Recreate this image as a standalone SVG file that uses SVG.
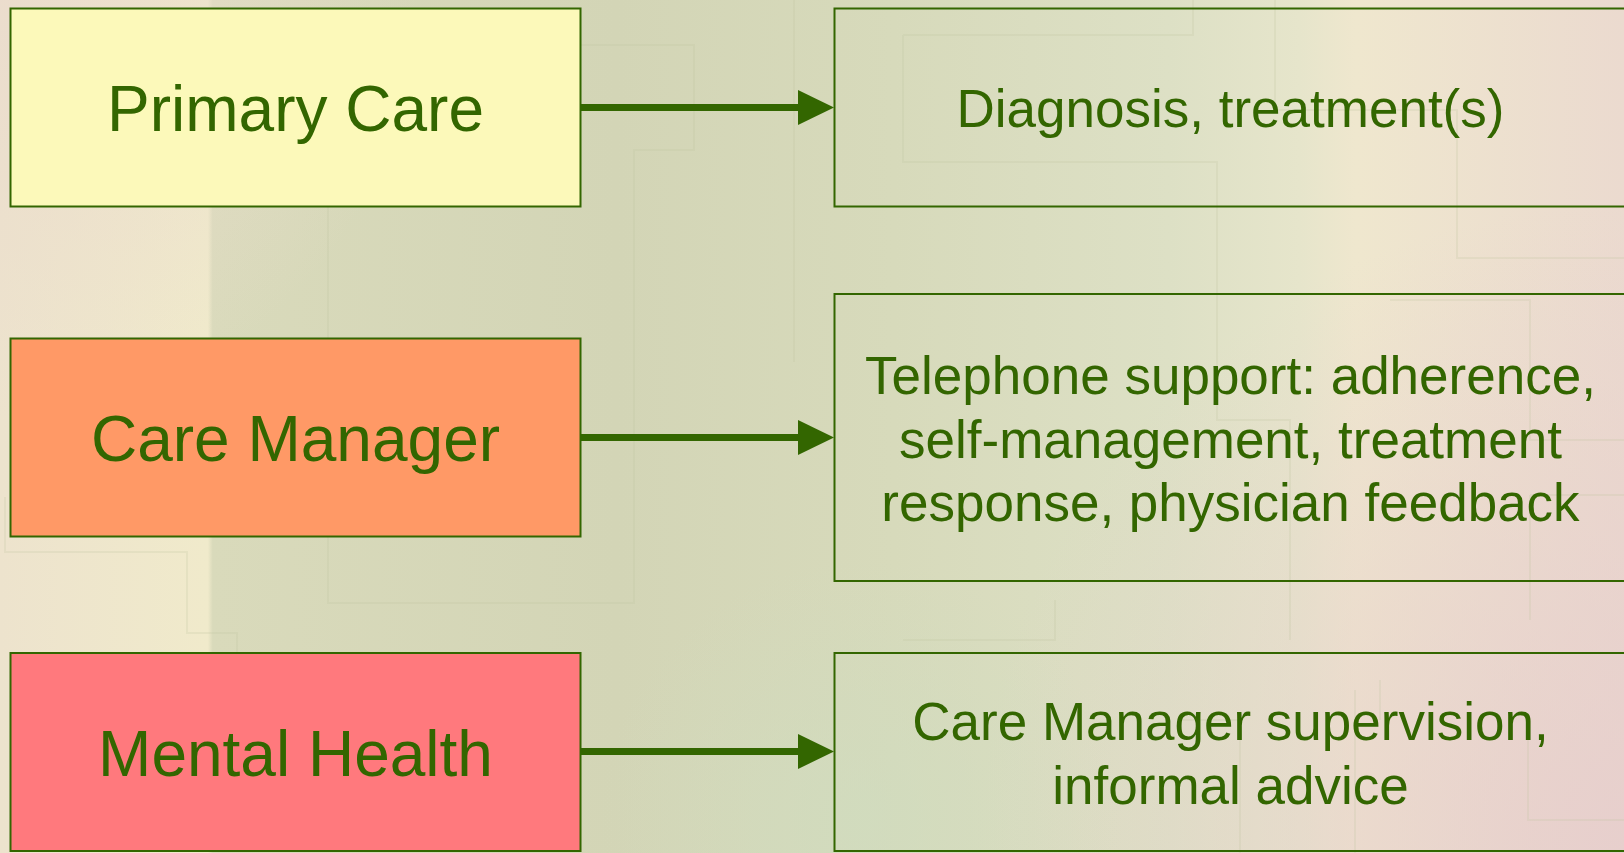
<svg xmlns="http://www.w3.org/2000/svg" width="1624" height="853" viewBox="0 0 1624 853">
  <defs>
    <linearGradient id="bgH" x1="0" y1="0" x2="1624" y2="0" gradientUnits="userSpaceOnUse">
      <stop offset="0" stop-color="#EDE3CD"/>
      <stop offset="0.128" stop-color="#F0EACB"/>
      <stop offset="0.131" stop-color="#D9DABB"/>
      <stop offset="0.38" stop-color="#D3D5B6"/>
      <stop offset="0.55" stop-color="#D7DABB"/>
      <stop offset="0.72" stop-color="#DDE0C5"/>
      <stop offset="0.8" stop-color="#E6E5CB"/>
      <stop offset="0.835" stop-color="#EFE7CE"/>
      <stop offset="1" stop-color="#EBDACF"/>
    </linearGradient>
    <radialGradient id="bgBR" cx="1624" cy="853" r="650" gradientUnits="userSpaceOnUse">
      <stop offset="0" stop-color="#E6CCCC" stop-opacity="0.8"/>
      <stop offset="1" stop-color="#E6CCCC" stop-opacity="0"/>
    </radialGradient>
    <radialGradient id="bgTL" cx="0" cy="0" r="420" gradientUnits="userSpaceOnUse">
      <stop offset="0" stop-color="#EBDCCD" stop-opacity="0.9"/>
      <stop offset="1" stop-color="#EBDCCD" stop-opacity="0"/>
    </radialGradient>
    <radialGradient id="bgBL" cx="860" cy="820" r="260" gradientUnits="userSpaceOnUse">
      <stop offset="0" stop-color="#CFDCBF" stop-opacity="0.7"/>
      <stop offset="1" stop-color="#CFDCBF" stop-opacity="0"/>
    </radialGradient>
    <marker id="arrow" markerUnits="userSpaceOnUse" markerWidth="36" markerHeight="36" refX="0" refY="17.5" orient="auto" viewBox="0 0 36 36">
      <path d="M0,0 L36,17.5 L0,35 Z" fill="#336600"/>
    </marker>
    <style>
      .left { stroke: #336600; stroke-width: 2; }
      .right { fill: none; stroke: #336600; stroke-width: 2; }
      .lbl { font-family: "Liberation Sans", Arial, sans-serif; fill: #336600; text-anchor: middle; }
      .big { font-size: 64px; }
      .small { font-size: 53px; }
      .conn { stroke: #336600; stroke-width: 7; fill: none; }
      .faint { fill: none; stroke: #BFC2A0; stroke-opacity: 0.22; stroke-width: 2; }
    </style>
  </defs>

  <!-- background -->
  <rect x="0" y="0" width="1624" height="853" fill="url(#bgH)"/>
  <rect x="0" y="0" width="1624" height="853" fill="url(#bgTL)"/>
  <rect x="0" y="0" width="1624" height="853" fill="url(#bgBR)"/>
  <rect x="0" y="0" width="1624" height="853" fill="url(#bgBL)"/>
  <g id="background-lines">
    <path class="faint" d="M580,45 H694 V150 H634 V603 H328 V200"/>
    <path class="faint" d="M794,0 V362"/>
    <path class="faint" d="M5,497 V552 H187 V633 H237 V660"/>
    <path class="faint" d="M903,35 H1193 V0 M903,35 V162 H1217 V420 H1290 V640"/>
    <path class="faint" d="M1275,0 V110 H1457 V258 H1624"/>
    <path class="faint" d="M1390,300 H1530 V440 H1624"/>
    <path class="faint" d="M1530,495 H1624 M1530,495 V620"/>
    <path class="faint" d="M903,640 H1055 V600"/>
    <path class="faint" d="M1380,680 V720 M1528,720 V820 H1624"/>
    <path class="faint" d="M1355,690 V853 M1180,720 H1240 V853"/>
  </g>

  <!-- connectors -->
  <g id="connectors">
    <line class="conn" x1="581" y1="107.5" x2="798" y2="107.5" marker-end="url(#arrow)"/>
    <line class="conn" x1="581" y1="437.5" x2="798" y2="437.5" marker-end="url(#arrow)"/>
    <line class="conn" x1="581" y1="751.5" x2="798" y2="751.5" marker-end="url(#arrow)"/>
  </g>

  <!-- left nodes -->
  <g id="primary-care">
    <rect class="left" x="10.5" y="8.5" width="570" height="198" fill="#FCF9BA"/>
    <text class="lbl big" x="295.5" y="131">Primary Care</text>
  </g>
  <g id="care-manager">
    <rect class="left" x="10.5" y="338.5" width="570" height="198" fill="#FF9966"/>
    <text class="lbl big" x="295.5" y="461">Care Manager</text>
  </g>
  <g id="mental-health">
    <rect class="left" x="10.5" y="653" width="570" height="198" fill="#FF797D"/>
    <text class="lbl big" x="295.5" y="776">Mental Health</text>
  </g>

  <!-- right nodes -->
  <g id="diagnosis">
    <rect class="right" x="834.5" y="8.5" width="793" height="198"/>
    <text class="lbl small" x="1230.5" y="126.5">Diagnosis, treatment(s)</text>
  </g>
  <g id="telephone-support">
    <rect class="right" x="834.5" y="294" width="793" height="287"/>
    <text class="lbl small" x="1230.5" y="393.5">Telephone support: adherence,</text>
    <text class="lbl small" x="1230.5" y="457.5">self-management, treatment</text>
    <text class="lbl small" x="1230.5" y="521">response, physician feedback</text>
  </g>
  <g id="supervision">
    <rect class="right" x="834.5" y="653" width="793" height="198"/>
    <text class="lbl small" x="1230.5" y="740">Care Manager supervision,</text>
    <text class="lbl small" x="1230.5" y="804">informal advice</text>
  </g>
</svg>
